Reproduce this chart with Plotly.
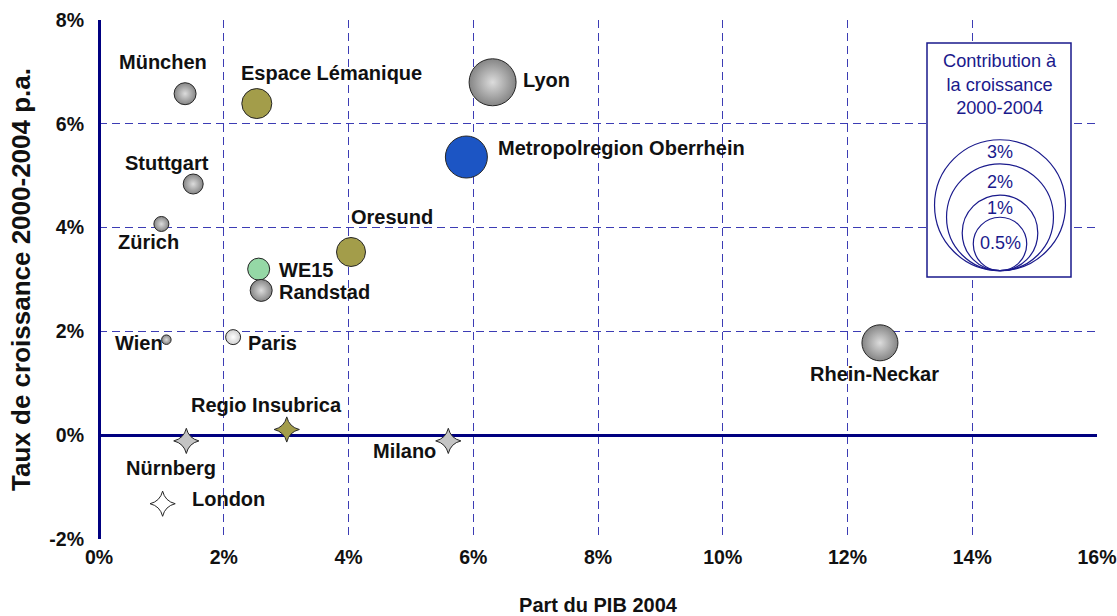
import plotly.graph_objects as go

# ---------------- data ----------------
regions = ["München", "Espace Lémanique", "Lyon", "Metropolregion Oberrhein",
           "Stuttgart", "Zürich", "Oresund", "WE15", "Randstad", "Wien",
           "Paris", "Rhein-Neckar"]
gdp_share = [1.38, 2.53, 6.31, 5.89, 1.51, 1.00, 4.04, 2.56, 2.60, 1.08, 2.15, 12.52]
growth = [6.58, 6.39, 6.80, 5.36, 4.84, 4.07, 3.53, 3.20, 2.79, 1.84, 1.89, 1.78]
bubble_size = [22, 30, 47, 42, 20, 15, 29, 22, 22, 9.5, 15, 36]

star_regions = ["Nürnberg", "Regio Insubrica", "Milano", "London"]
star_gdp_share = [1.40, 3.01, 5.60, 1.02]
star_growth = [-0.11, 0.11, -0.11, -1.32]

legend_levels = ["3%", "2%", "1%", "0.5%"]
legend_values = [3, 2, 1, 0.5]

x_ticks = [0, 2, 4, 6, 8, 10, 12, 14, 16]
y_ticks = [-2, 0, 2, 4, 6, 8]

# ---------------- styles ----------------
W, H = 1117, 616
ML, MR, MT, MB = 99, 20, 20, 77
PW, PH = W - ML - MR, H - MT - MB
NAVY = "#000080"
GRID = "#3c3cb4"
LEG = "#1a1a8c"
FONT = "Liberation Sans, Arial, sans-serif"

def px_to_paper(px, py):
    return (px - ML) / PW, (H - MB - py) / PH

bubble_fill = {
    "Espace Lémanique": ("#a39d4a", None),
    "Oresund": ("#a39d4a", None),
    "Metropolregion Oberrhein": ("#1c55c4", None),
    "WE15": ("#95d8a6", None),
    "Paris": ("#cfcfcf", "#ffffff"),
}
star_fill = {"Nürnberg": "#c4c4c4", "Milano": "#c4c4c4",
             "Regio Insubrica": "#a39d4a", "London": "#ffffff"}

label_offsets = {
    "München": (-22, -32), "Espace Lémanique": (75, -31), "Lyon": (54, -2),
    "Metropolregion Oberrhein": (155, -9), "Stuttgart": (-26, -21),
    "Zürich": (-13, 18), "Oresund": (41, -35), "WE15": (47, 1),
    "Randstad": (63, 2), "Wien": (-27, 3), "Paris": (39, 6),
    "Rhein-Neckar": (-5, 31), "Regio Insubrica": (-20, -24),
    "Nürnberg": (-15, 27), "Milano": (-44, 10), "London": (66, -5),
}

fig = go.Figure()

# bubbles, one trace each so colours/gradients can differ
for name, gx, gy, s in zip(regions, gdp_share, growth, bubble_size):
    edge, center = bubble_fill.get(name, ("#858585", "#dcdcdc"))
    marker = dict(size=s, color=edge, line=dict(color="#262626", width=1))
    if center is not None:
        marker["gradient"] = dict(type="radial", color=center)
    fig.add_trace(go.Scatter(x=[gx], y=[gy], mode="markers", marker=marker,
                             showlegend=False, hoverinfo="skip"))

for name, gx, gy in zip(star_regions, star_gdp_share, star_growth):
    fig.add_trace(go.Scatter(
        x=[gx], y=[gy], mode="markers", showlegend=False, hoverinfo="skip",
        marker=dict(symbol="star-diamond", size=18, color=star_fill[name],
                    line=dict(color="#262626", width=1))))

# labels
all_names = regions + star_regions
all_x = gdp_share + star_gdp_share
all_y = growth + star_growth
for name, gx, gy in zip(all_names, all_x, all_y):
    dx, dy = label_offsets[name]
    fig.add_annotation(x=gx, y=gy, text=f"<b>{name}</b>", showarrow=False,
                       xshift=dx, yshift=-dy,
                       font=dict(family=FONT, size=20, color="#111111"),
                       xanchor="center", yanchor="middle")

# ---------------- size legend ----------------
bx0, by0 = px_to_paper(927, 277)
bx1, by1 = px_to_paper(1071, 43)
fig.add_shape(type="rect", xref="paper", yref="paper", x0=bx0, y0=by0, x1=bx1, y1=by1,
              line=dict(color=LEG, width=1.5), fillcolor="white", layer="above")
tx, ty = px_to_paper(1000, 84.5)
fig.add_annotation(xref="paper", yref="paper", x=tx, y=ty, showarrow=False,
                   text="Contribution à<br>la croissance<br>2000-2004",
                   font=dict(family=FONT, size=18.2, color=LEG),
                   xanchor="center", yanchor="middle")
ax, ay = px_to_paper(1000, 270.7)
r_unit = 37.8
label_y_px = {"3%": 151.7, "2%": 182.3, "1%": 208.3, "0.5%": 242.7}
for lab, v in zip(legend_levels, legend_values):
    r = r_unit * v ** 0.5
    fig.add_shape(type="circle", xref="paper", yref="paper",
                  xsizemode="pixel", ysizemode="pixel", xanchor=ax, yanchor=ay,
                  x0=-r, x1=r, y0=0, y1=2 * r,
                  line=dict(color=LEG, width=1.2), layer="above")
    lx, ly = px_to_paper(1000, label_y_px[lab])
    fig.add_annotation(xref="paper", yref="paper", x=lx, y=ly, text=lab,
                       showarrow=False, xanchor="center", yanchor="middle",
                       font=dict(family=FONT, size=18, color=LEG))

tick_font = dict(family=FONT, size=19.5, color="#111111")
fig.update_layout(
    width=W, height=H,
    margin=dict(l=ML, r=MR, t=MT, b=MB, pad=0, autoexpand=False),
    paper_bgcolor="white", plot_bgcolor="white",
    showlegend=False,
    font=dict(family=FONT),
    xaxis=dict(range=[0, 16], tickvals=x_ticks, ticktext=[f"<b>{v}%</b>" for v in x_ticks],
               showgrid=True, gridcolor=GRID, gridwidth=1, griddash="8px,5px",
               zeroline=True, zerolinecolor=NAVY, zerolinewidth=3,
               showline=False, ticks="", tickfont=tick_font, ticklabelstandoff=4,
               automargin=False,
               title=dict(text="<b>Part du PIB 2004</b>",
                          font=dict(family=FONT, size=20, color="#111111"), standoff=34)),
    yaxis=dict(range=[-2, 8], tickvals=y_ticks, ticktext=[f"<b>{v}%</b>" for v in y_ticks],
               showgrid=True, gridcolor=GRID, gridwidth=1, griddash="8px,5px",
               zeroline=True, zerolinecolor=NAVY, zerolinewidth=3,
               showline=False, ticks="", tickfont=tick_font, ticklabelstandoff=14,
               automargin=False,
               title=dict(text="<b>Taux de croissance 2000-2004 p.a.</b>",
                          font=dict(family=FONT, size=26, color="#111111"), standoff=11)),
)

fig.write_html("out.html", config={"displayModeBar": False},
               post_script="document.body.style.margin='0';")
